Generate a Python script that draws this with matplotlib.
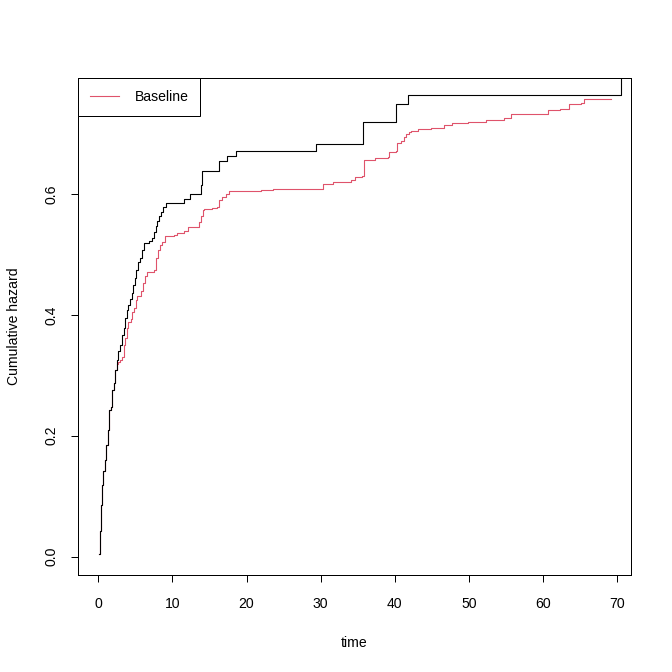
import matplotlib
matplotlib.use("Agg")
import matplotlib.pyplot as plt

plt.rcParams['font.family'] = ['Liberation Sans', 'DejaVu Sans']

# black curve (steps, value after jump)
t_black = [0.13, 0.27, 0.4, 0.54, 0.67, 0.94, 1.08, 1.28, 1.48, 1.69, 1.89, 2.09,
           2.29, 2.50, 2.70, 2.97, 3.24, 3.44, 3.64, 3.85, 4.05, 4.32, 4.52, 4.72,
           4.93, 5.13, 5.40, 5.67, 5.94, 6.21, 6.88, 7.29, 7.56, 7.76, 7.96, 8.23,
           8.50, 8.77, 9.11, 11.57, 12.42, 13.83, 14.03, 16.33, 17.34, 18.62,
           29.42, 35.69, 40.15, 41.77, 70.54]
h_black = [0.005, 0.043, 0.085, 0.118, 0.142, 0.159, 0.184, 0.209, 0.242, 0.247,
           0.275, 0.287, 0.308, 0.325, 0.341, 0.350, 0.366, 0.379, 0.394, 0.408,
           0.416, 0.427, 0.437, 0.449, 0.461, 0.474, 0.487, 0.494, 0.507, 0.519,
           0.522, 0.527, 0.537, 0.547, 0.555, 0.563, 0.570, 0.578, 0.585, 0.592,
           0.600, 0.615, 0.638, 0.655, 0.663, 0.671, 0.683, 0.719, 0.749, 0.764,
           0.85]

# Baseline curve
t_base = [0.13, 0.27, 0.4, 0.54, 0.67, 0.94, 1.08, 1.28, 1.48, 1.69, 1.89, 2.09,
          2.29, 2.50, 2.70, 2.97, 3.24, 3.44, 3.64, 3.85, 4.05, 4.39, 4.59, 4.79,
          5.06, 5.26, 5.80, 6.07, 6.34, 6.61, 7.56, 7.83, 8.03, 8.30, 8.64, 8.97,
          10.26, 10.66, 11.61, 12.15, 13.09, 13.56, 13.83, 14.10, 14.30, 15.38,
          16.06, 16.33, 16.73, 17.27, 17.68, 21.96, 23.52, 30.30, 31.62, 34.10,
          34.62, 35.56, 35.80, 37.38, 39.04, 39.20, 40.15, 40.28, 40.85, 41.30,
          41.57, 41.90, 42.20, 43.09, 44.90, 46.69, 47.73, 49.84, 52.32, 54.79,
          55.70, 59.38, 60.63, 62.31, 63.56, 65.14, 65.59, 66.26, 69.19]
h_base = [0.005, 0.043, 0.085, 0.118, 0.142, 0.159, 0.184, 0.209, 0.242, 0.247,
          0.275, 0.287, 0.308, 0.318, 0.322, 0.326, 0.330, 0.350, 0.361, 0.378,
          0.388, 0.393, 0.404, 0.411, 0.424, 0.431, 0.439, 0.452, 0.464, 0.471,
          0.474, 0.494, 0.507, 0.515, 0.520, 0.530, 0.533, 0.536, 0.538, 0.545,
          0.546, 0.553, 0.563, 0.573, 0.575, 0.577, 0.578, 0.590, 0.595, 0.600,
          0.605, 0.607, 0.609, 0.616, 0.620, 0.623, 0.628, 0.630, 0.656, 0.659,
          0.662, 0.670, 0.672, 0.685, 0.688, 0.695, 0.700, 0.703, 0.704, 0.707,
          0.710, 0.714, 0.717, 0.719, 0.722, 0.725, 0.732, 0.733, 0.739, 0.741,
          0.749, 0.751, 0.757, 0.758, 0.758]

x_ticks = [0, 10, 20, 30, 40, 50, 60, 70]
y_ticks = [0.0, 0.2, 0.4, 0.6]

fig = plt.figure(figsize=(672 / 72, 672 / 72), dpi=72)
ax = fig.add_axes([78 / 672, 1 - 575 / 672, 553 / 672, 497 / 672])

ax.step(t_base, h_base, where='post', color='#DF536B', linewidth=1.1, label='Baseline')
ax.step(t_black, h_black, where='post', color='black', linewidth=1.1)

ax.set_xlim(-2.75, 71.9)
ax.set_ylim(-0.0305, 0.792)
ax.set_xticks(x_ticks)
ax.set_xticklabels([str(v) for v in x_ticks])
ax.set_yticks(y_ticks)
ax.set_yticklabels(['%.1f' % v for v in y_ticks], rotation=90, va='center')
ax.tick_params(direction='out', length=7, width=1, labelsize=14, pad=15)
ax.tick_params(axis='y', pad=13)
for s in ax.spines.values():
    s.set_linewidth(1)

ax.set_xlabel('time', fontsize=14, labelpad=25)
ax.set_ylabel('Cumulative hazard', fontsize=14, labelpad=23)

leg = ax.legend(loc='upper left', bbox_to_anchor=(0, 1), borderaxespad=0,
                fontsize=14, fancybox=False, framealpha=1, edgecolor='black',
                handlelength=2.1, borderpad=0.85, handletextpad=1.1)
leg.get_frame().set_linewidth(1)

fig.savefig('out.png', dpi=72)
